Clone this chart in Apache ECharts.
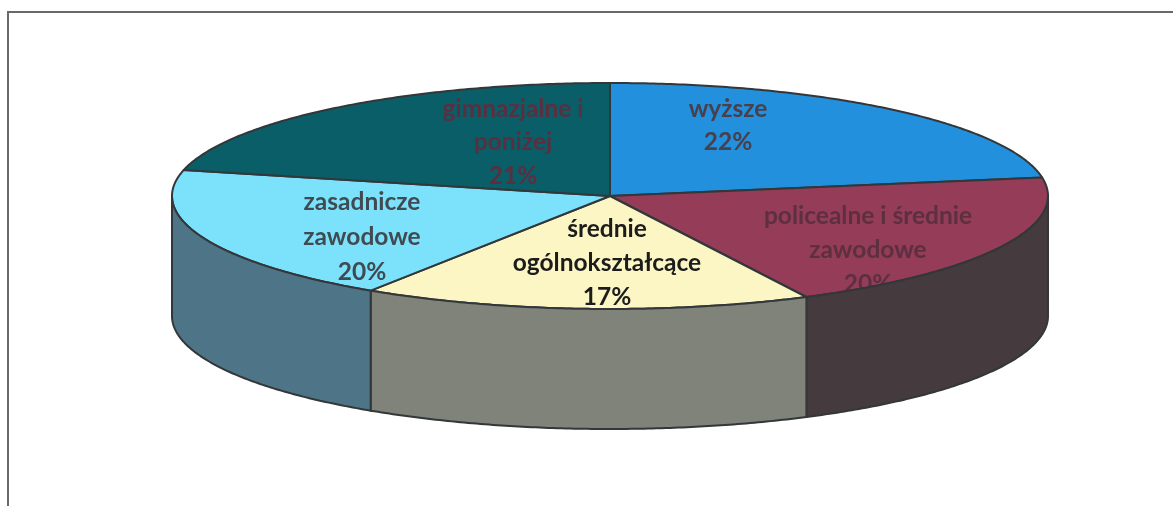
<!DOCTYPE html>
<html lang="pl">
<head>
<meta charset="utf-8">
<title>Wykształcenie</title>
<style>html,body{margin:0;padding:0;background:#fff}#chart{width:1173px;height:506px}</style>
<script src="https://cdn.jsdelivr.net/npm/echarts@6/dist/echarts.min.js"></script>
</head>
<body>
<div id="chart"></div>
<script>
// Data
const categories = ['wyższe', 'policealne i średnie zawodowe', 'średnie ogólnokształcące', 'zasadnicze zawodowe', 'gimnazjalne i poniżej'];
const labelLines = [['wyższe'], ['policealne i średnie', 'zawodowe'], ['średnie', 'ogólnokształcące'], ['zasadnicze', 'zawodowe'], ['gimnazjalne i', 'poniżej']];
const shares = [22.4, 20.2, 16.6, 19.5, 21.3];
const topColors = ['#2290dc', '#943c58', '#fbf6c4', '#7ce2fb', '#0a5e68'];
const wallColors = ['#1a5c8c', '#453a3e', '#7f8379', '#4e7587', '#063c42'];
const labelColors = ['#4a3f4a', '#5c3040', '#1c1c1c', '#3f4a52', '#5a3040'];

// Layout of the tilted disc
const CX = 610, CY = 196, RX = 438, RY = 113, DEPTH = 120, LINE = '#33373a';
// Label centre (first line) relative to disc centre, per slice
const labelDX = [118, 258, -3, -248, -97];
const labelDY = [-87, 20, 33, 6, -87];
const labelStep = [33.5, 34, 34, 35, 33.5];

const total = shares.reduce((a, b) => a + b, 0);
const cum = [0];
shares.forEach((v, i) => cum.push(cum[i] + v));
const ang = p => p / total * 2 * Math.PI;
const px = t => CX + RX * Math.sin(t);
const py = (t, dz) => CY - RY * Math.cos(t) + (dz || 0);
function arc(a, b, dz) {
  const n = Math.max(2, Math.ceil(Math.abs(b - a) / 0.01)), out = [];
  for (let i = 0; i <= n; i++) { const t = a + (b - a) * i / n; out.push([px(t), py(t, dz)]); }
  return out;
}

function renderTop(params, api) {
  const i = params.dataIndex;
  const a = ang(api.value(1)), b = ang(api.value(2));
  const lines = labelLines[i].concat([Math.round(api.value(0)) + '%']);
  const children = [{
    type: 'polygon',
    shape: { points: [[CX, CY]].concat(arc(a, b)) },
    style: { fill: topColors[i], stroke: LINE, lineWidth: 2, lineJoin: 'round' }
  }];
  lines.forEach((t, k) => children.push({
    type: 'text',
    z2: 5,
    style: {
      text: t, x: CX + labelDX[i], y: CY + labelDY[i] + k * labelStep[i],
      align: 'center', verticalAlign: 'middle',
      font: 'bold 24.5px Lato, "Open Sans", sans-serif', fill: labelColors[i]
    }
  }));
  return { type: 'group', children };
}

function renderWall(params, api) {
  const i = params.dataIndex;
  const a = Math.max(ang(api.value(1)), Math.PI / 2);
  const b = Math.min(ang(api.value(2)), Math.PI * 1.5);
  if (b <= a) return null;
  const pts = arc(a, b).concat(arc(b, a, DEPTH));
  return {
    type: 'polygon',
    shape: { points: pts },
    style: { fill: wallColors[i], stroke: LINE, lineWidth: 2, lineJoin: 'round' }
  };
}

const rows = shares.map((v, i) => [v, cum[i], cum[i + 1], categories[i]]);
const chart = echarts.init(document.getElementById('chart'), null, { renderer: 'canvas' });
chart.setOption({
  animation: false,
  backgroundColor: '#ffffff',
  graphic: [
    { type: 'line', shape: { x1: 7, y1: 12, x2: 1173, y2: 12 }, style: { stroke: '#666a6c', lineWidth: 2 } },
    { type: 'line', shape: { x1: 8, y1: 12, x2: 8, y2: 506 }, style: { stroke: '#666a6c', lineWidth: 2 } }
  ],
  series: [
    { type: 'custom', coordinateSystem: 'none', renderItem: renderTop, data: rows, z: 2, silent: true },
    { type: 'custom', coordinateSystem: 'none', renderItem: renderWall, data: rows, z: 3, silent: true }
  ]
});
</script>
</body>
</html>
